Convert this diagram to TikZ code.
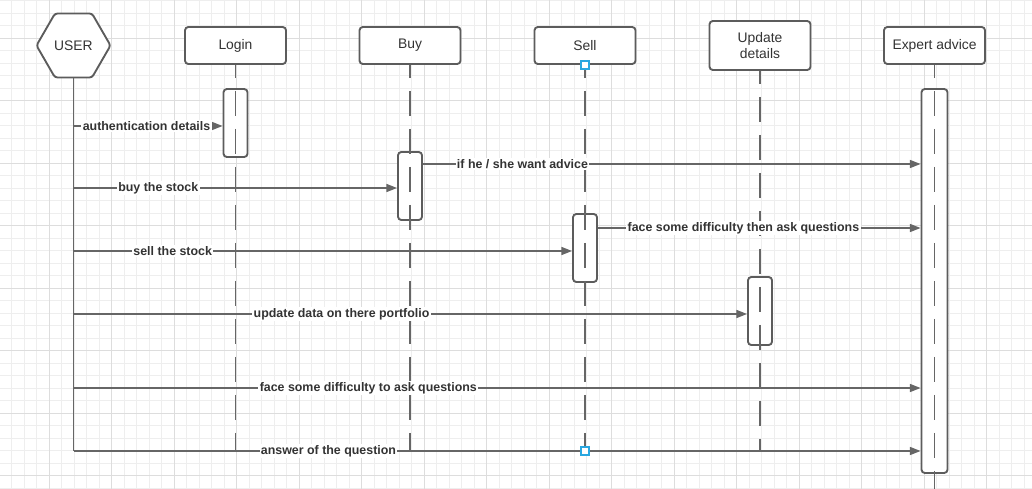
\documentclass[tikz,border=0pt]{standalone}
\usepackage{fontspec}
\setmainfont{Liberation Sans}
\usetikzlibrary{arrows.meta,shapes.geometric}
\definecolor{gridminor}{HTML}{EEEEEE}
\definecolor{gridmajor}{HTML}{DDDDDD}
\definecolor{edge}{HTML}{5C5C5C}
\definecolor{lineg}{HTML}{666666}
\definecolor{txt}{HTML}{333333}
\definecolor{selc}{HTML}{2AA7E0}
\begin{document}
\begin{tikzpicture}[x=0.75pt,y=-0.75pt,
  header/.style={draw=edge, line width=1.4pt, rounded corners=2.5pt, fill=white,
    minimum width=75.75pt, minimum height=27.75pt, inner sep=0pt, text=txt,
    font=\fontsize{10.4}{12.5}\selectfont, align=center},
  hex/.style={regular polygon, regular polygon sides=6, draw=edge, line width=1.4pt,
    rounded corners=2pt, fill=white, minimum size=55.5pt, inner sep=0pt, text=txt,
    font=\fontsize{10.4}{12.5}\selectfont},
  act/.style={draw=edge, line width=1.4pt, rounded corners=2.5pt, fill=white,
    minimum width=18pt, inner sep=0pt},
  lifeline/.style={draw=lineg, line width=1.1pt, dash pattern=on 18.75pt off 9.75pt, dash phase=9pt},
  userline/.style={draw=lineg, line width=1.1pt},
  msg/.style={draw=lineg, line width=1pt, -{Triangle[length=8pt,width=6pt]}},
  lbl/.style={fill=white, inner sep=1pt, text=txt, font=\bfseries\fontsize{9.3}{11}\selectfont},
  selbox/.style={draw=selc, line width=1pt, fill=white, minimum size=6pt, inner sep=0pt}
]
\useasboundingbox (0,0) rectangle (1032,489);
\fill[white] (0,0) rectangle (1032,489);
\begin{scope}
\clip (0,0) rectangle (1032,489);
\foreach \i in {0,...,83} \draw[gridminor, line width=0.75pt] ({-1+12.5*\i},0) -- ({-1+12.5*\i},489);
\foreach \j in {0,...,39} \draw[gridminor, line width=0.75pt] (0,{0.8+12.5*\j}) -- (1032,{0.8+12.5*\j});
\foreach \i in {0,...,16} \draw[gridmajor, line width=0.75pt] ({49+62.5*\i},0) -- ({49+62.5*\i},489);
\foreach \j in {0,...,7} \draw[gridmajor, line width=0.75pt] (0,{38.3+62.5*\j}) -- (1032,{38.3+62.5*\j});
\end{scope}

% message levels
\coordinate (m1) at (0,126);
\coordinate (m2) at (0,188);
\coordinate (m3) at (0,164);
\coordinate (m4) at (0,251);
\coordinate (m5) at (0,228);
\coordinate (m6) at (0,314);
\coordinate (m7) at (0,388);
\coordinate (m8) at (0,451);
\coordinate (bot) at (0,489);

% participants
\node[hex] (user) at (73.5,45.5) {USER};
\node[header] (login) at (235.5,45.5) {Login};
\node[header] (buy) at (410,45.5) {Buy};
\node[header] (sell) at (585,45.5) {Sell};
\node[header, minimum height=36.75pt] (upd) at (760,45.5) {Update\\details};
\node[header] (exp) at (934.5,45.5) {Expert advice};

% activation boxes
\node[act, minimum height=51pt] (la) at (235.5,123) {};
\node[act, minimum height=51pt] (ba) at (410,186) {};
\node[act, minimum height=51pt] (sa) at (585,248) {};
\node[act, minimum height=51pt] (ua) at (760,311) {};
\node[act, minimum width=19.5pt, minimum height=288pt] (ea) at (934.5,281) {};

% lifelines
\draw[userline] (user.south) -- (user.south |- m8);
\draw[lifeline] (login.south) -- (login.south |- m8);
\draw[lifeline] (buy.south) -- (buy.south |- m8);
\draw[lifeline] (sell.south) -- (sell.south |- m8);
\draw[lifeline] (upd.south) -- (upd.south |- m8);
\draw[lifeline] (exp.south) -- (exp.south |- bot);

% messages
\draw[msg] (user.south |- m1) -- (la.west |- m1) node[lbl,pos=0.49] {authentication details};
\draw[msg] (user.south |- m2) -- (ba.west |- m2) node[lbl,pos=0.262] {buy the stock};
\draw[msg] (ba.east |- m3) -- (ea.west |- m3) node[lbl,pos=0.2] {if he / she want advice};
\draw[msg] (user.south |- m4) -- (sa.west |- m4) node[lbl,pos=0.199] {sell the stock};
\draw[msg] (sa.east |- m5) -- (ea.west |- m5) node[lbl,pos=0.451] {face some difficulty then ask questions};
\draw[msg] (user.south |- m6) -- (ua.west |- m6) node[lbl,pos=0.398] {update data on there portfolio};
\draw[msg] (user.south |- m7) -- (ea.west |- m7) node[lbl,pos=0.348] {face some difficulty to ask questions};
\draw[msg] (user.south |- m8) -- (ea.west |- m8) node[lbl,pos=0.301] {answer of the question};

% selection handles
\node[selbox] (s1) at (sell.south) {};
\node[selbox] (s2) at (sell.south |- m8) {};
\end{tikzpicture}
\end{document}
